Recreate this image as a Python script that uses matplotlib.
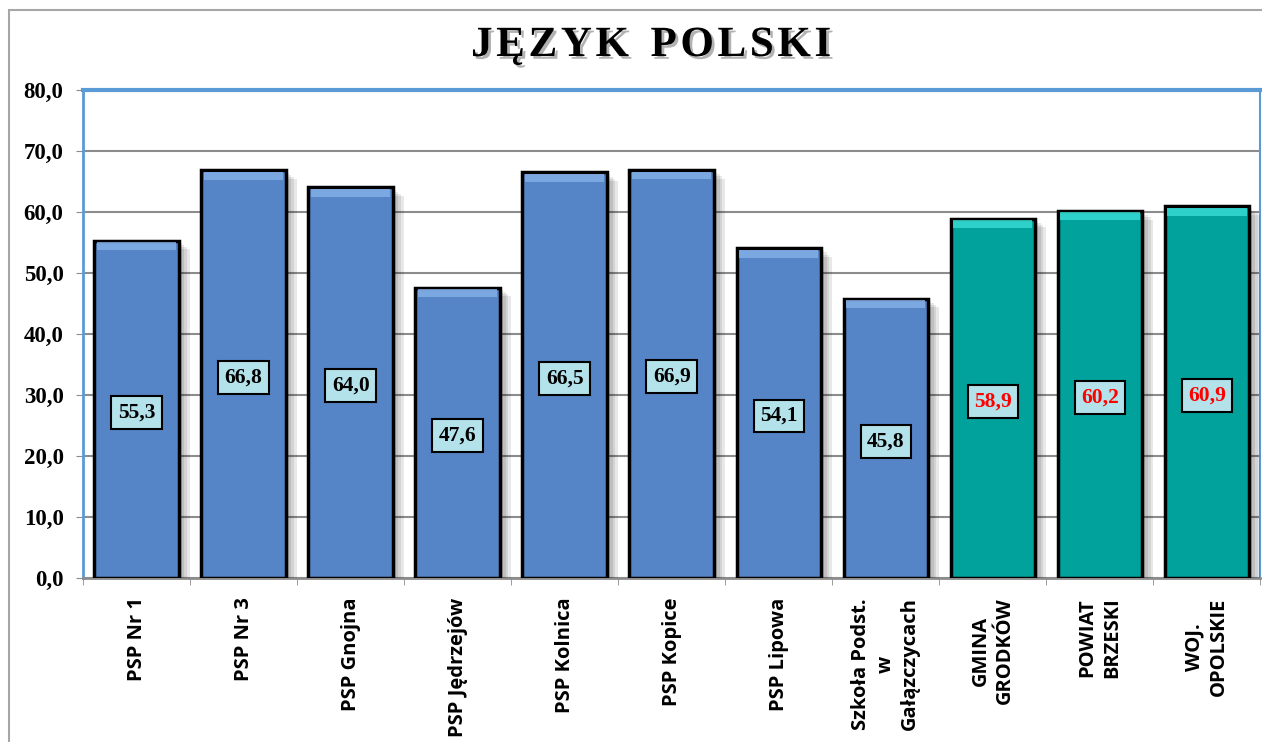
import matplotlib.pyplot as plt
import matplotlib.patheffects as pe
from matplotlib.patches import Rectangle
import numpy as np

categories = [
    "PSP Nr 1", "PSP Nr 3", "PSP Gnojna", "PSP Jędrzejów", "PSP Kolnica",
    "PSP Kopice", "PSP Lipowa", "Szkoła Podst.\nw\nGałązczycach",
    "GMINA\nGRODKÓW", "POWIAT\nBRZESKI", "WOJ.\nOPOLSKIE",
]
values = [55.3, 66.8, 64.0, 47.6, 66.5, 66.9, 54.1, 45.8, 58.9, 60.2, 60.9]
is_region = [False] * 8 + [True] * 3
yticks = [0, 10, 20, 30, 40, 50, 60, 70, 80]

blue, blue_hi = "#5585C6", "#86B2EA"
teal, teal_hi = "#01A19C", "#3ADDD6"

fig = plt.figure(figsize=(12.62, 7.42), dpi=100)
ax = fig.add_axes([0.0658, 0.221, 0.933, 0.658])

# outer chart border
fig.patches.append(Rectangle((0.007, -0.01), 1.1, 0.997, transform=fig.transFigure,
                             fill=False, edgecolor="#A6A6A6", lw=1.5))

x = np.arange(len(values))
vals = np.array(values)
colors = [teal if r else blue for r in is_region]
hi = [teal_hi if r else blue_hi for r in is_region]

# soft shadow: several faint offset copies
shadow = [pe.SimplePatchShadow(offset=(o, -o * 0.8), shadow_rgbFace="black", alpha=0.09)
          for o in (2, 4, 6, 8)]
bars = ax.bar(x, vals, width=0.79, color=colors, edgecolor="black", linewidth=2.5, zorder=3)
for b in bars:
    b.set_path_effects(shadow + [pe.Normal()])
# bevel highlight near the top
bev = 1.3
ax.bar(x, bev, bottom=vals - bev - 0.3, width=0.74, color=hi, alpha=0.8, linewidth=0, zorder=4)

for xi, v, r in zip(x, vals, is_region):
    ax.text(xi, v / 2 - 0.5, f"{v:.1f}".replace(".", ","), ha="center", va="center",
            fontsize=15.5, fontweight="bold", family="Liberation Serif",
            color="#FF0000" if r else "black", zorder=6,
            bbox=dict(boxstyle="square,pad=0.3", facecolor="#B4E2EA", edgecolor="black", lw=1.5))

ax.set_xlim(-0.5, len(values) - 0.5)
ax.set_ylim(0, 80)
ax.set_yticks(yticks)
ax.set_yticklabels([f"{t:.1f}".replace(".", ",") for t in yticks],
                   fontsize=16.5, fontweight="bold", family="Liberation Serif")
ax.yaxis.grid(True, color="#8C8C8C", lw=1.5, zorder=0)
ax.set_axisbelow(True)

ax.set_xticks(x)
ax.set_xticklabels(categories, rotation=90, fontsize=14.5, fontweight="bold",
                   family="Open Sans", va="top", ha="center", multialignment="center",
                   linespacing=1.3)
ax.set_xticks(np.arange(len(values) + 1) - 0.5, minor=True)
ax.tick_params(axis="x", which="major", length=0, pad=14)
ax.tick_params(axis="x", which="minor", length=5, color="#8C8C8C", direction="out")
ax.tick_params(axis="y", length=5, color="#8C8C8C", pad=9)

for s in ["top", "right", "left"]:
    ax.spines[s].set_color("#5B9BD5")
ax.spines["top"].set_linewidth(3)
ax.spines["left"].set_linewidth(2)
ax.spines["right"].set_linewidth(1.5)
ax.spines["bottom"].set_color("#8C8C8C")
ax.spines["bottom"].set_linewidth(2)

fig.text(0.516, 0.938, "J\u200aĘ\u200aZ\u200aY\u200aK  P\u200aO\u200aL\u200aS\u200aK\u200aI",
         ha="center", va="center", fontsize=31, fontweight="bold", family="Liberation Serif",
         path_effects=[pe.withSimplePatchShadow(offset=(2, -2), shadow_rgbFace="gray", alpha=0.6)])

fig.savefig("out.png", dpi=100)
